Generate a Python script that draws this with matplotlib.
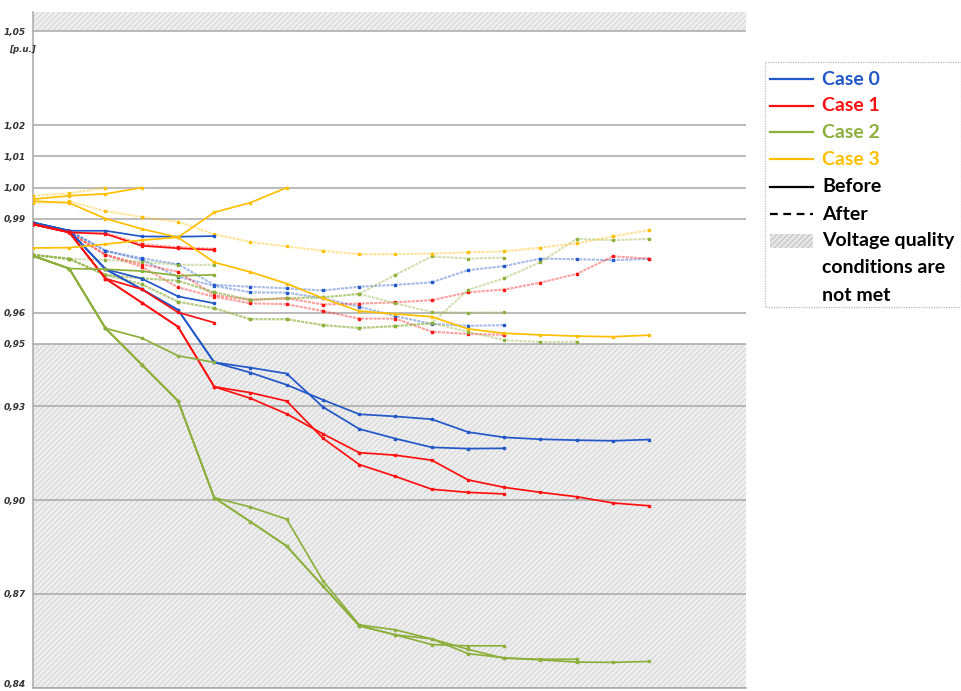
import numpy as np
import matplotlib.pyplot as plt
import matplotlib.transforms as mtransforms
from matplotlib.patches import Rectangle

plt.rcParams['hatch.linewidth'] = 0.6

# feeder nodes along the x axis
nodes = np.arange(18)

# Case 0 voltages [p.u.]
case0_before = [
    [0.9888, 0.9862, 0.9862, 0.9844, 0.9843, 0.9845],
    [0.9888, 0.9862, 0.9739, 0.9709, 0.9652, 0.9630],
    [0.9888, 0.9862, 0.9739, 0.9675, 0.9609, 0.9441, 0.9408, 0.9369, 0.9321,
     0.9275, 0.9268, 0.9259, 0.9218, 0.9201, 0.9195, 0.9192, 0.9190, 0.9194],
    [0.9888, 0.9862, 0.9739, 0.9675, 0.9609, 0.9441, 0.9424, 0.9405, 0.9298,
     0.9228, 0.9197, 0.9169, 0.9165, 0.9166],
]
case0_after = [
    [0.9888, 0.9862, 0.9798, 0.9774, 0.9755, 0.9689, 0.9683, 0.9678, 0.9671,
     0.9683, 0.9689, 0.9697, 0.9736, 0.9749, 0.9773, 0.9771, 0.9768, 0.9772],
    [0.9888, 0.9862, 0.9798, 0.9769, 0.9715, 0.9686, 0.9665, 0.9664, 0.9646,
     0.9619, 0.9589, 0.9564, 0.9558, 0.9560],
]

# Case 1
case1_before = [
    [0.9883, 0.9857, 0.9852, 0.9814, 0.9806, 0.9801],
    [0.9883, 0.9857, 0.9709, 0.9675, 0.9601, 0.9568],
    [0.9883, 0.9857, 0.9709, 0.9632, 0.9555, 0.9363, 0.9326, 0.9276, 0.9212,
     0.9152, 0.9144, 0.9128, 0.9065, 0.9041, 0.9025, 0.9011, 0.8991, 0.8982],
    [0.9883, 0.9857, 0.9709, 0.9632, 0.9555, 0.9363, 0.9344, 0.9317, 0.9198,
     0.9114, 0.9076, 0.9035, 0.9025, 0.9020],
]
case1_after = [
    [0.9883, 0.9857, 0.9855, 0.9819, 0.9809, 0.9804],
    [0.9883, 0.9857, 0.9785, 0.9755, 0.9731, 0.9656, 0.9641, 0.9646, 0.9626,
     0.9629, 0.9633, 0.9640, 0.9665, 0.9674, 0.9696, 0.9724, 0.9780, 0.9773],
    [0.9883, 0.9857, 0.9785, 0.9747, 0.9681, 0.9651, 0.9630, 0.9627, 0.9605,
     0.9581, 0.9581, 0.9539, 0.9532, 0.9529],
]

# Case 2
case2_before = [
    [0.9782, 0.9741, 0.9739, 0.9733, 0.9718, 0.9721],
    [0.9782, 0.9741, 0.9550, 0.9519, 0.9462, 0.9441],
    [0.9782, 0.9741, 0.9550, 0.9434, 0.9318, 0.9008, 0.8978, 0.8939, 0.8742,
     0.8601, 0.8585, 0.8556, 0.8523, 0.8494, 0.8491, 0.8491],
    [0.9782, 0.9741, 0.9550, 0.9434, 0.9318, 0.9008, 0.8931, 0.8853, 0.8725,
     0.8598, 0.8569, 0.8538, 0.8534, 0.8534],
    [0.9782, 0.9741, 0.9550, 0.9434, 0.9318, 0.9008, 0.8931, 0.8853, 0.8725,
     0.8598, 0.8569, 0.8556, 0.8509, 0.8496, 0.8489, 0.8482, 0.8481, 0.8484],
]
case2_after = [
    [0.9785, 0.9772, 0.9769, 0.9763, 0.9753, 0.9753],
    [0.9785, 0.9772, 0.9721, 0.9710, 0.9702, 0.9665, 0.9641, 0.9646, 0.9649,
     0.9660, 0.9721, 0.9780, 0.9773, 0.9776],
    [0.9785, 0.9772, 0.9721, 0.9710, 0.9702, 0.9665, 0.9641, 0.9646, 0.9649,
     0.9660, 0.9630, 0.9602, 0.9600, 0.9601],
    [0.9785, 0.9772, 0.9721, 0.9691, 0.9635, 0.9614, 0.9579, 0.9579, 0.9560,
     0.9551, 0.9557, 0.9566, 0.9673, 0.9710, 0.9762, 0.9836, 0.9832, 0.9836],
    [0.9785, 0.9772, 0.9721, 0.9691, 0.9635, 0.9614, 0.9579, 0.9579, 0.9560,
     0.9551, 0.9557, 0.9566, 0.9539, 0.9512, 0.9506, 0.9507],
]

# Case 3
case3_before = [
    [0.9963, 0.9974, 0.9980, 1.0000],
    [0.9807, 0.9808, 0.9819, 0.9832, 0.9841, 0.9921, 0.9952, 1.0000],
    [0.9957, 0.9951, 0.9901, 0.9868, 0.9841, 0.9761, 0.9730, 0.9693, 0.9646,
     0.9605, 0.9596, 0.9587, 0.9548, 0.9534, 0.9529, 0.9525, 0.9523, 0.9528],
]
case3_after = [
    [0.9974, 0.9982, 1.0000],
    [0.9951, 0.9956, 0.9925, 0.9906, 0.9891, 0.9851, 0.9826, 0.9812, 0.9798,
     0.9787, 0.9787, 0.9789, 0.9793, 0.9796, 0.9808, 0.9822, 0.9844, 0.9864],
]

case_labels = ["Case 0", "Case 1", "Case 2", "Case 3"]
case_colors = ["#2157c8", "#ff1010", "#8db03c", "#ffbf00"]
yticks = [0.84, 0.87, 0.90, 0.93, 0.95, 0.96, 0.99, 1.00, 1.01, 1.02, 1.05]
v_low, v_high = 0.95, 1.05

W, H = 962, 691
fig = plt.figure(figsize=(W / 100, H / 100), dpi=100)
ax = fig.add_axes([33 / W, 3.3 / H, (746 - 33) / W, (687.7 - 12) / H])

y_top = 1.0562
ax.set_xlim(0, 19.67)
ax.set_ylim(0.84, y_top)

# voltage band violations
for lo, hi in [(0.84, v_low), (v_high, y_top)]:
    ax.axhspan(lo, hi, facecolor="#eeeeee", edgecolor="#d0d0d0",
               hatch="//////", lw=0, zorder=0)

for t in yticks:
    ax.axhline(t, color="#a8a8a8", lw=1.1, zorder=1)

groups = [
    (case0_before, case0_after),
    (case1_before, case1_after),
    (case2_before, case2_after),
    (case3_before, case3_after),
]
for color, (before, after) in zip(case_colors, groups):
    for v in after:
        ax.plot(nodes[:len(v)], v, color=color, lw=1.5, alpha=0.4,
                ls=(0, (1.5, 0.5)), zorder=2)
        ax.plot(nodes[:len(v)], v, ls="none", marker="s", ms=2.0,
                color=color, zorder=3)
    for v in before:
        ax.plot(nodes[:len(v)], v, color=color, lw=1.25, marker="s",
                ms=2.0, zorder=4)

ax.set_xticks([])
ax.set_yticks(yticks)
ax.set_yticklabels([f"{t:.2f}".replace(".", ",") for t in yticks],
                   fontsize=6.5, fontstyle="italic", fontweight="bold",
                   color="#333333")
ax.tick_params(axis="y", length=0, pad=5)
# lowest label sits on the figure edge, lift it a little
low_lab = ax.get_yticklabels()[0]
low_lab.set_transform(low_lab.get_transform() +
                      mtransforms.ScaledTranslation(0, 3 / 72, fig.dpi_scale_trans))
for s in ["top", "right"]:
    ax.spines[s].set_visible(False)
for s in ["left", "bottom"]:
    ax.spines[s].set_color("#a8a8a8")
    ax.spines[s].set_linewidth(1.1)

# legend panel drawn in pixel coordinates
lg = fig.add_axes([0, 0, 1, 1])
lg.set_xlim(0, W)
lg.set_ylim(H, 0)
lg.axis("off")
lg.text(9, 49, "[p.u.]", fontsize=6.2, fontstyle="italic",
        fontweight="bold", color="#333333", ha="left", va="center")
lg.add_patch(Rectangle((765, 62), 196, 245, fill=False, ec="#bdbdbd",
                       lw=0.9, ls=(0, (1, 1))))
row_y = [79, 105.7, 132.3, 159, 186.7, 214, 240.7, 267.3, 295]
font = dict(fontsize=14, fontweight="bold", family=["Lato", "DejaVu Sans"],
            va="center", ha="left")
for i, (lab, c) in enumerate(zip(case_labels, case_colors)):
    lg.plot([770, 813], [row_y[i], row_y[i]], color=c, lw=1.6)
    lg.text(822, row_y[i], lab, color=c, **font)
lg.plot([770, 813], [row_y[4], row_y[4]], color="black", lw=1.6)
lg.text(822, row_y[4], "Before", color="black", **font)
lg.plot([770, 813], [row_y[5], row_y[5]], color="black", lw=1.6,
        ls=(0, (3.5, 2.5)))
lg.text(822, row_y[5], "After", color="black", **font)
lg.add_patch(Rectangle((770, row_y[6] - 7), 43, 14, facecolor="#e6e6e6",
                       edgecolor="#b8b8b8", hatch="//////", lw=0))
for j, line in enumerate(["Voltage quality", "conditions are", "not met"]):
    lg.text(822, row_y[6 + j], line, color="black", **font)

fig.savefig("out.png", dpi=100)
